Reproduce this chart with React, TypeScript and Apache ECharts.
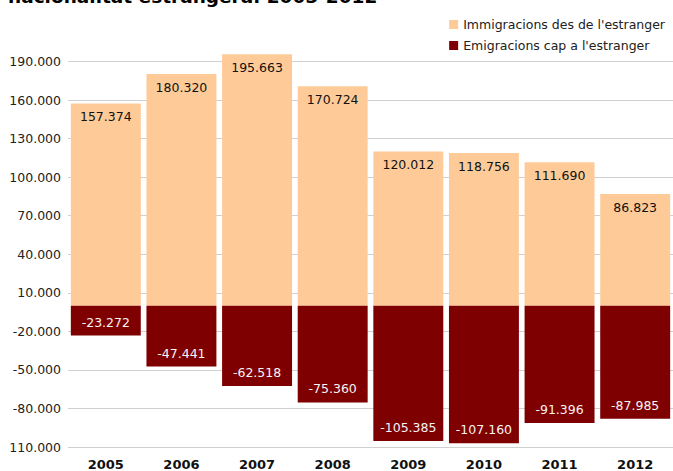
import React, { useEffect, useRef } from "react";
import * as echarts from "echarts";

const years = ["2005", "2006", "2007", "2008", "2009", "2010", "2011", "2012"];
const immigrations = [157374, 180320, 195663, 170724, 120012, 118756, 111690, 86823];
const emigrations = [-23272, -47441, -62518, -75360, -105385, -107160, -91396, -87985];
const seriesNames = ["Immigracions des de l'estranger", "Emigracions cap a l'estranger"];
const titleText = "nacionalitat estrangera. 2005-2012";
const yMin = -110000;
const yMax = 190000;
const yInterval = 30000;
const yTickLabels = [
  "110.000", "-80.000", "-50.000", "-20.000", "10.000", "40.000",
  "70.000", "100.000", "130.000", "160.000", "190.000",
];

const fmt = (v: number) => {
  const s = Math.abs(v).toString().replace(/\B(?=(\d{3})+(?!\d))/g, ".");
  return (v < 0 ? "-" : "") + s;
};

const FONT = "DejaVu Sans";

export default function App() {
  const ref = useRef<HTMLDivElement>(null);
  useEffect(() => {
    if (!ref.current) return;
    const chart = echarts.init(ref.current, null, { renderer: "svg" });
    chart.setOption({
      animation: false,
      backgroundColor: "#ffffff",
      textStyle: { fontFamily: FONT },
      graphic: [
        {
          type: "text",
          x: 8,
          y: -3.5,
          style: {
            text: titleText,
            font: `bold 18.5px "${FONT}"`,
            fill: "#000",
            verticalAlign: "middle",
            align: "left",
          },
        },
      ],
      legend: {
        orient: "vertical",
        right: 3,
        top: 13,
        itemWidth: 9,
        itemHeight: 9,
        itemGap: 8,
        icon: "rect",
        align: "left",
        textStyle: { fontFamily: FONT, fontSize: 12.5, color: "#222" },
        data: seriesNames,
      },
      grid: { left: 68, right: 0, top: 61.5, bottom: 24, containLabel: false },
      xAxis: {
        type: "category",
        data: years,
        axisLine: { show: false },
        axisTick: { show: false },
        axisLabel: {
          fontFamily: FONT,
          fontWeight: "bold",
          fontSize: 13,
          color: "#111",
          margin: 11,
        },
      },
      yAxis: {
        type: "value",
        min: yMin,
        max: yMax,
        interval: yInterval,
        axisLine: { show: false },
        axisTick: { show: false },
        splitLine: { lineStyle: { color: "#d0d0d0", width: 1 } },
        axisLabel: {
          fontFamily: FONT,
          fontSize: 12.5,
          color: "#222",
          margin: 7,
          formatter: (v: number) => yTickLabels[Math.round((v - yMin) / yInterval)] ?? fmt(v),
        },
      },
      series: [
        {
          name: seriesNames[0],
          type: "bar",
          data: immigrations,
          clip: false,
          barCategoryGap: "7.5%",
          barGap: "-100%",
          itemStyle: { color: "#FECB98" },
          label: {
            show: true,
            position: "insideTop",
            distance: 7,
            fontFamily: FONT,
            fontSize: 12.5,
            color: "#111",
            formatter: (p: any) => fmt(p.value),
          },
        },
        {
          name: seriesNames[1],
          type: "bar",
          data: emigrations,
          clip: false,
          barCategoryGap: "7.5%",
          barGap: "-100%",
          itemStyle: { color: "#7F0000" },
          label: {
            show: true,
            position: "insideBottom",
            distance: 7,
            fontFamily: FONT,
            fontSize: 12.5,
            color: "#f4f4f4",
            formatter: (p: any) => fmt(p.value),
          },
        },
      ],
    });
    return () => chart.dispose();
  }, []);
  return (
    <div
      ref={ref}
      style={{ position: "fixed", left: 0, top: 0, width: 673, height: 471 }}
    />
  );
}
